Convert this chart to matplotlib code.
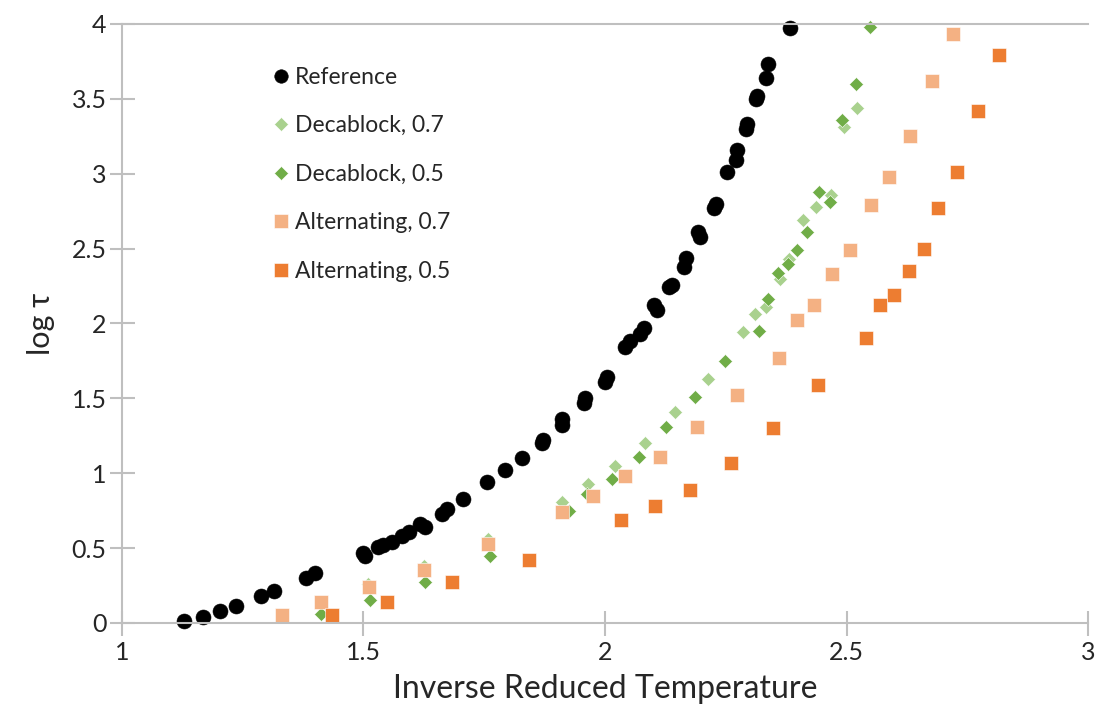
import matplotlib
matplotlib.use("Agg")
import matplotlib.pyplot as plt
from matplotlib.ticker import FuncFormatter, MultipleLocator

# Reference (black circles)
ref_x = [1.128, 1.167, 1.202, 1.237, 1.287, 1.314, 1.382, 1.400, 1.498, 1.504,
         1.529, 1.541, 1.558, 1.579, 1.595, 1.618, 1.628, 1.662, 1.672, 1.707,
         1.755, 1.792, 1.829, 1.869, 1.871, 1.912, 1.912, 1.956, 1.958, 1.999,
         2.005, 2.042, 2.052, 2.073, 2.081, 2.102, 2.108, 2.133, 2.139, 2.164,
         2.168, 2.193, 2.197, 2.226, 2.230, 2.253, 2.271, 2.274, 2.292, 2.294,
         2.313, 2.315, 2.334, 2.338, 2.384]
ref_y = [0.01, 0.04, 0.08, 0.11, 0.18, 0.21, 0.30, 0.33, 0.47, 0.45,
         0.51, 0.52, 0.54, 0.58, 0.61, 0.66, 0.64, 0.73, 0.76, 0.83,
         0.94, 1.02, 1.10, 1.20, 1.22, 1.32, 1.36, 1.47, 1.50, 1.61,
         1.64, 1.84, 1.88, 1.93, 1.97, 2.12, 2.09, 2.24, 2.26, 2.38,
         2.44, 2.61, 2.58, 2.77, 2.80, 3.01, 3.09, 3.16, 3.30, 3.33,
         3.50, 3.52, 3.64, 3.73, 3.97]

# Decablock, 0.7
dec7_x = [1.510, 1.625, 1.758, 1.911, 1.965, 2.020, 2.082, 2.145, 2.214, 2.286,
          2.310, 2.334, 2.362, 2.381, 2.410, 2.437, 2.467, 2.494, 2.522]
dec7_y = [0.26, 0.38, 0.56, 0.81, 0.93, 1.05, 1.20, 1.41, 1.63, 1.94,
          2.06, 2.11, 2.30, 2.43, 2.69, 2.78, 2.86, 3.31, 3.44]

# Decablock, 0.5
dec5_x = [1.411, 1.513, 1.628, 1.761, 1.925, 1.963, 2.015, 2.071, 2.127, 2.187,
          2.248, 2.318, 2.337, 2.359, 2.379, 2.398, 2.419, 2.443, 2.465, 2.491,
          2.520, 2.548]
dec5_y = [0.06, 0.15, 0.27, 0.45, 0.75, 0.86, 0.96, 1.11, 1.31, 1.51,
          1.75, 1.95, 2.16, 2.34, 2.40, 2.49, 2.61, 2.88, 2.81, 3.36,
          3.60, 3.98]

# Alternating, 0.7
alt7_x = [1.331, 1.412, 1.511, 1.625, 1.758, 1.911, 1.976, 2.042, 2.113, 2.191,
          2.274, 2.360, 2.398, 2.432, 2.470, 2.508, 2.550, 2.589, 2.631, 2.676,
          2.721]
alt7_y = [0.05, 0.14, 0.24, 0.35, 0.53, 0.74, 0.85, 0.98, 1.11, 1.31,
          1.52, 1.77, 2.02, 2.12, 2.33, 2.49, 2.79, 2.98, 3.25, 3.62,
          3.93]

# Alternating, 0.5
alt5_x = [1.434, 1.548, 1.684, 1.842, 2.034, 2.103, 2.175, 2.260, 2.347, 2.441,
          2.541, 2.570, 2.599, 2.629, 2.660, 2.690, 2.729, 2.772, 2.815]
alt5_y = [0.05, 0.14, 0.27, 0.42, 0.69, 0.78, 0.89, 1.07, 1.30, 1.59,
          1.90, 2.12, 2.19, 2.35, 2.50, 2.77, 3.01, 3.42, 3.79]

series = [
    ("Reference", ref_x, ref_y, "o", "#000000", 10.8),
    ("Decablock, 0.7", dec7_x, dec7_y, "D", "#A9D18E", 7.6),
    ("Decablock, 0.5", dec5_x, dec5_y, "D", "#70AD47", 7.6),
    ("Alternating, 0.7", alt7_x, alt7_y, "s", "#F4B183", 10.6),
    ("Alternating, 0.5", alt5_x, alt5_y, "s", "#ED7D31", 10.6),
]

plt.rcParams["font.family"] = ["Lato", "DejaVu Sans"]
GREY = "#BFBFBF"
TEXT = "#262626"

fig = plt.figure(figsize=(10.99, 7.26), dpi=100)
ax = fig.add_axes([0.111, 0.142, 0.879, 0.825])

for label, xs, ys, marker, color, size in series:
    ax.plot(xs, ys, linestyle="none", marker=marker, markersize=size,
            markerfacecolor=color, markeredgecolor="white" if marker != "o" else color,
            markeredgewidth=0.4, label=label, clip_on=False)

ax.set_xlim(1, 3)
ax.set_ylim(0, 4)
ax.xaxis.set_major_locator(MultipleLocator(0.5))
ax.yaxis.set_major_locator(MultipleLocator(0.5))
fmt = FuncFormatter(lambda v, pos: f"{v:g}")
ax.xaxis.set_major_formatter(fmt)
ax.yaxis.set_major_formatter(fmt)

ax.spines["right"].set_visible(False)
for side in ("left", "bottom", "top"):
    ax.spines[side].set_color(GREY)
    ax.spines[side].set_linewidth(1.5)

ax.tick_params(axis="both", direction="inout", length=18, width=1.5, color=GREY,
               labelsize=18, labelcolor=TEXT)
ax.tick_params(axis="x", pad=4)
ax.tick_params(axis="y", pad=2)

ax.set_xlabel("Inverse Reduced Temperature", fontsize=23, color=TEXT, labelpad=7)
ax.set_ylabel("log τ", fontsize=22, color=TEXT, labelpad=12)

leg = ax.legend(loc="upper left", bbox_to_anchor=(0.13, 0.963), frameon=False,
                fontsize=16.5, labelspacing=1.2, handletextpad=0.05,
                markerscale=0.9, handlelength=1.1)
for t in leg.get_texts():
    t.set_color(TEXT)

fig.savefig("out.png", dpi=100)
